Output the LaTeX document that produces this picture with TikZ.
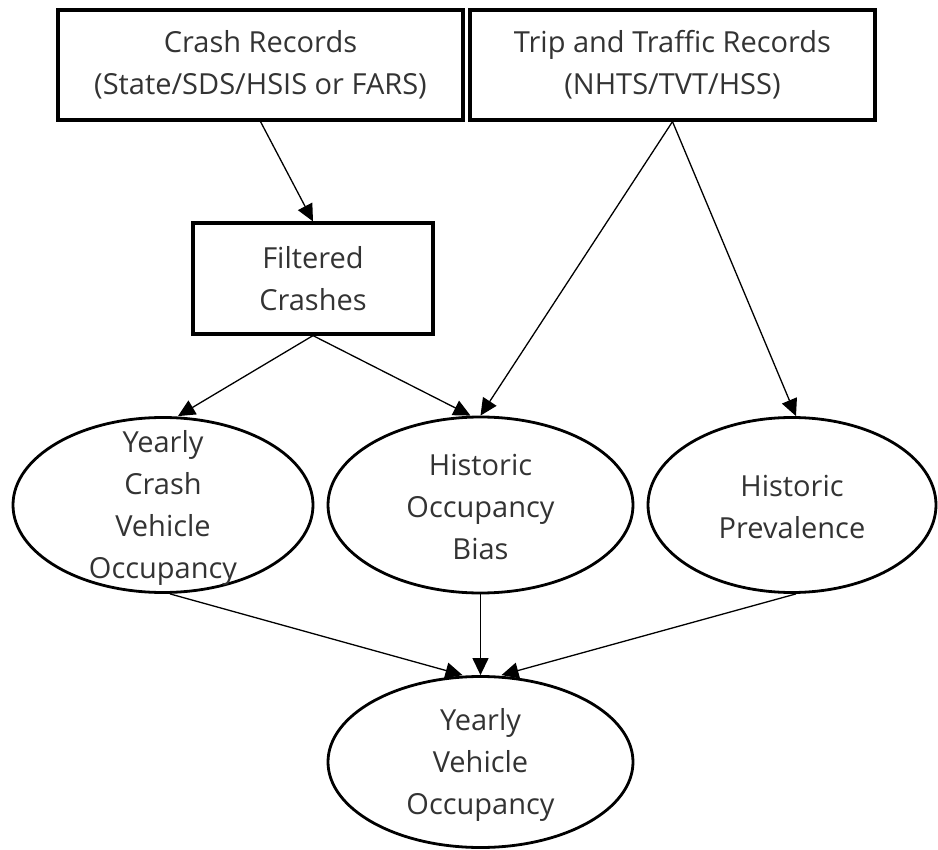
\documentclass[tikz,border=0pt]{standalone}
\usepackage{fontspec}
\setmainfont{Open Sans}
\usetikzlibrary{shapes.geometric,arrows.meta}
\begin{document}
\begin{tikzpicture}[x=1pt,y=-1pt,
  txt/.style={font=\fontsize{29}{42}\selectfont, text=black!80, align=center},
  recbox/.style={draw, line width=3.2pt, rectangle, inner sep=0pt, txt},
  oval/.style={draw, line width=2.8pt, ellipse, inner sep=0pt},
  link/.style={line width=1.3pt, -{Triangle[length=17pt,width=16pt]}}]
\useasboundingbox (0,0) rectangle (938,850);

% data sources
\node[recbox, minimum width=405pt, minimum height=110pt] (crash) at (260.5,65)
  {Crash Records\\(State/SDS/HSIS or FARS)};
\node[recbox, minimum width=405pt, minimum height=110pt] (trip) at (672.5,65)
  {Trip and Traffic Records\\(NHTS/TVT/HSS)};
\node[recbox, minimum width=240pt, minimum height=111pt] (filt) at (313,278.5)
  {Filtered\\Crashes};

% derived quantities
\node[oval, minimum width=300pt, minimum height=175pt] (ycvo) at (163,505) {};
\node[txt] (ycvo-t) at (163,508) {Yearly\\Crash\\Vehicle\\Occupancy};
\node[oval, minimum width=305pt, minimum height=176pt] (hob) at (480.5,505) {};
\node[txt] (hob-t) at (480.5,507) {Historic\\Occupancy\\Bias};
\node[oval, minimum width=288pt, minimum height=175pt] (hp) at (792,505) {};
\node[txt] (hp-t) at (792,507) {Historic\\Prevalence};
\node[oval, minimum width=305pt, minimum height=171pt] (yvo) at (480.5,762) {};
\node[txt] (yvo-t) at (480.5,765) {Yearly\\Vehicle\\Occupancy};

% connectors
\draw[link] (crash.south) -- (filt.north);
\draw[link] (filt.south) -- ([xshift=15pt]ycvo.north);
\draw[link] (filt.south) -- ([xshift=-10pt]hob.north);
\draw[link] (trip.south) -- (hob.north);
\draw[link] (trip.south) -- ([xshift=4pt]hp.north);
\draw[link] ([xshift=7pt]ycvo.south) -- ([xshift=-18pt]yvo.north);
\draw[link] (hob.south) -- (yvo.north);
\draw[link] ([xshift=4pt]hp.south) -- ([xshift=21pt]yvo.north);
\end{tikzpicture}
\end{document}
